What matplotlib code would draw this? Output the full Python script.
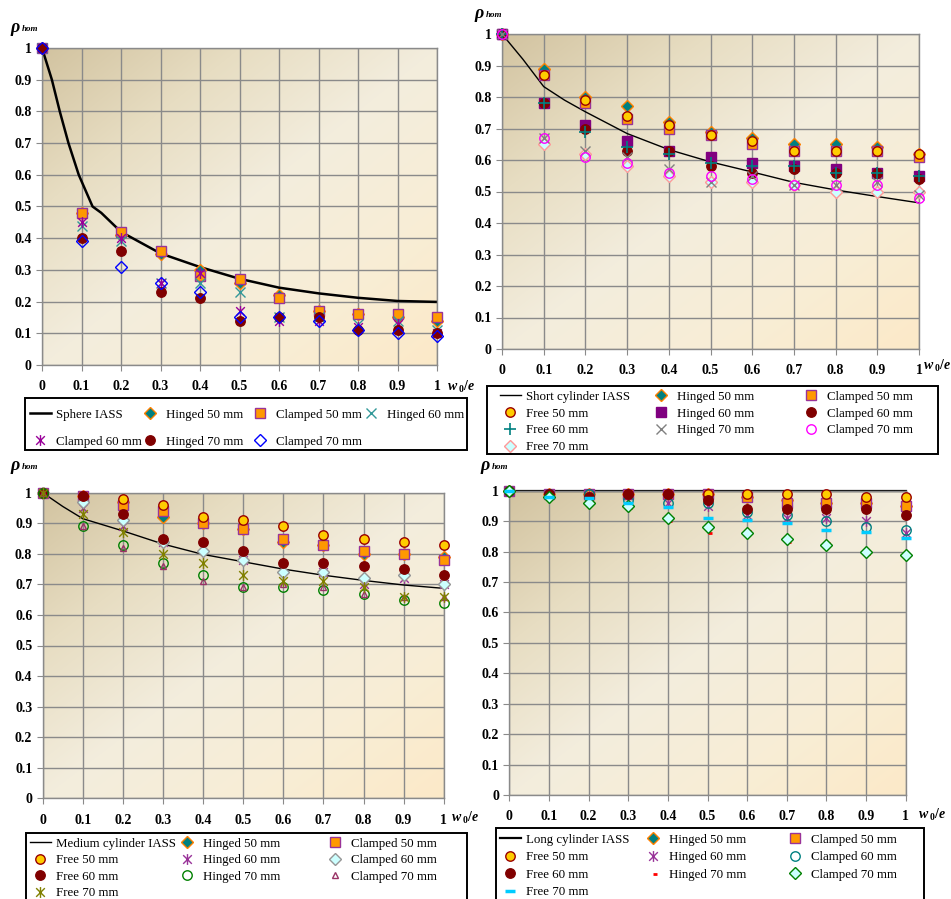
import numpy as np
import matplotlib
matplotlib.use("Agg")
import matplotlib.pyplot as plt
from matplotlib.path import Path
from matplotlib.patches import Rectangle

plt.rcParams['font.family'] = ['Liberation Serif', 'DejaVu Serif']
plt.rcParams['mathtext.fontset'] = 'custom'
plt.rcParams['mathtext.rm'] = 'Liberation Serif:bold'
plt.rcParams['mathtext.it'] = 'Liberation Serif:italic:bold'
plt.rcParams['mathtext.bf'] = 'Liberation Serif:bold'

# ---------------- data ----------------
x_vals = [0.0, 0.1, 0.2, 0.3, 0.4, 0.5, 0.6, 0.7, 0.8, 0.9, 1.0]
tick_labels = ['0', '0.1', '0.2', '0.3', '0.4', '0.5', '0.6', '0.7', '0.8', '0.9', '1']

# Sphere
sph_iass_x = [0, 0.025, 0.045, 0.067, 0.093, 0.128, 0.15, 0.2, 0.3, 0.4, 0.5, 0.6, 0.7, 0.8, 0.9, 1.0]
sph_iass_y = [1.0, 0.9, 0.8, 0.7, 0.6, 0.5, 0.48, 0.42, 0.352, 0.309, 0.272, 0.244, 0.226, 0.212, 0.202, 0.199]
sph_h50 = [1.0, 0.48, 0.41, 0.35, 0.30, 0.26, 0.22, 0.17, 0.16, 0.15, 0.14]
sph_c50 = [1.0, 0.48, 0.42, 0.36, 0.28, 0.27, 0.21, 0.17, 0.16, 0.16, 0.15]
sph_h60 = [1.0, 0.44, 0.39, 0.26, 0.26, 0.23, 0.15, 0.15, 0.13, 0.14, 0.11]
sph_c60 = [1.0, 0.45, 0.40, 0.26, 0.29, 0.17, 0.14, 0.14, 0.12, 0.13, 0.10]
sph_h70 = [1.0, 0.40, 0.36, 0.23, 0.21, 0.14, 0.15, 0.15, 0.11, 0.11, 0.10]
sph_c70 = [1.0, 0.39, 0.31, 0.26, 0.23, 0.15, 0.15, 0.14, 0.11, 0.10, 0.09]

# Short cylinder
sc_iass_x = [0, 0.05, 0.1, 0.15, 0.2, 0.3, 0.4, 0.5, 0.6, 0.7, 0.8, 0.9, 1.0]
sc_iass_y = [1.0, 0.92, 0.833, 0.79, 0.753, 0.684, 0.633, 0.594, 0.562, 0.529, 0.505, 0.484, 0.464]
sc_h50 = [1.0, 0.89, 0.80, 0.77, 0.72, 0.69, 0.67, 0.65, 0.65, 0.64, 0.62]
sc_c50 = [1.0, 0.87, 0.78, 0.73, 0.70, 0.68, 0.65, 0.63, 0.63, 0.63, 0.61]
sc_f50 = [1.0, 0.87, 0.79, 0.74, 0.71, 0.68, 0.66, 0.63, 0.63, 0.63, 0.62]
sc_h60 = [1.0, 0.78, 0.71, 0.66, 0.63, 0.61, 0.59, 0.58, 0.57, 0.56, 0.55]
sc_c60 = [1.0, 0.78, 0.70, 0.63, 0.63, 0.58, 0.56, 0.57, 0.56, 0.56, 0.54]
sc_f60 = [1.0, 0.78, 0.69, 0.64, 0.62, 0.59, 0.58, 0.58, 0.56, 0.56, 0.55]
sc_h70 = [1.0, 0.67, 0.63, 0.61, 0.57, 0.53, 0.55, 0.52, 0.52, 0.53, 0.49]
sc_c70 = [1.0, 0.67, 0.61, 0.59, 0.56, 0.55, 0.54, 0.52, 0.52, 0.52, 0.48]
sc_f70 = [1.0, 0.65, 0.62, 0.58, 0.55, 0.53, 0.53, 0.52, 0.50, 0.50, 0.50]

# Medium cylinder
mc_iass_x = [0, 0.05, 0.1, 0.15, 0.2, 0.3, 0.4, 0.5, 0.6, 0.7, 0.8, 0.9, 1.0]
mc_iass_y = [1.0, 0.955, 0.915, 0.895, 0.875, 0.832, 0.798, 0.774, 0.75, 0.73, 0.713, 0.698, 0.687]
mc_h50 = [1.0, 0.99, 0.97, 0.92, 0.90, 0.88, 0.84, 0.83, 0.80, 0.80, 0.79]
mc_c50 = [1.0, 0.99, 0.96, 0.94, 0.90, 0.88, 0.85, 0.83, 0.81, 0.80, 0.78]
mc_f50 = [1.0, 0.99, 0.98, 0.96, 0.92, 0.91, 0.89, 0.86, 0.85, 0.84, 0.83]
mc_h60 = [1.0, 0.95, 0.89, 0.84, 0.82, 0.78, 0.75, 0.74, 0.70, 0.72, 0.70]
mc_c60 = [1.0, 0.97, 0.91, 0.84, 0.81, 0.78, 0.74, 0.74, 0.72, 0.73, 0.70]
mc_f60 = [1.0, 0.99, 0.93, 0.85, 0.84, 0.81, 0.77, 0.77, 0.76, 0.75, 0.73]
mc_h70 = [1.0, 0.89, 0.83, 0.77, 0.73, 0.69, 0.69, 0.68, 0.67, 0.65, 0.64]
mc_c70 = [1.0, 0.89, 0.82, 0.76, 0.71, 0.69, 0.70, 0.69, 0.67, 0.66, 0.66]
mc_f70 = [1.0, 0.93, 0.87, 0.80, 0.77, 0.73, 0.71, 0.71, 0.69, 0.66, 0.66]

# Long cylinder
lc_iass_x = [0.0, 1.0]
lc_iass_y = [1.0, 1.0]
lc_h50 = [1.0, 0.99, 0.99, 0.99, 0.99, 0.99, 0.98, 0.97, 0.96, 0.96, 0.95]
lc_c50 = [1.0, 0.99, 0.99, 0.99, 0.99, 0.99, 0.98, 0.96, 0.96, 0.96, 0.95]
lc_f50 = [1.0, 0.99, 0.99, 0.99, 0.99, 0.99, 0.99, 0.99, 0.99, 0.98, 0.98]
lc_h60 = [1.0, 0.99, 0.99, 0.97, 0.96, 0.95, 0.92, 0.91, 0.91, 0.90, 0.86]
lc_c60 = [1.0, 0.99, 0.99, 0.97, 0.96, 0.96, 0.93, 0.92, 0.90, 0.88, 0.87]
lc_f60 = [1.0, 0.99, 0.98, 0.99, 0.99, 0.97, 0.94, 0.94, 0.94, 0.94, 0.92]
lc_h70 = [1.0, 0.98, 0.97, 0.945, 0.905, 0.865, 0.87, 0.835, 0.83, 0.795, 0.79]
lc_c70 = [1.0, 0.98, 0.96, 0.95, 0.91, 0.88, 0.86, 0.84, 0.82, 0.80, 0.79]
lc_f70 = [1.0, 0.98, 0.975, 0.96, 0.945, 0.91, 0.905, 0.895, 0.87, 0.865, 0.845]

# ---------------- styles ----------------
ASTER = Path([(-1, -1), (1, 1), (-1, 1), (1, -1), (0, -1.25), (0, 1.25)],
             [Path.MOVETO, Path.LINETO] * 3)
RDASH = Path([(0.0, -0.35), (1.0, -0.35)], [Path.MOVETO, Path.LINETO])

def st(marker, ms, mfc, mec, mew=1.0):
    return dict(marker=marker, ms=ms, mfc=mfc, mec=mec, mew=mew)

S_H50 = st('D', 5.8, '#008080', '#FF8000')
S_C50 = st('s', 6.8, '#FF9900', '#993399')
S_F50 = st('o', 6.8, '#FFCC00', '#990000')

W, H = 951, 899
fig = plt.figure(figsize=(W / 100, H / 100), dpi=100)

def fx(p): return p / W
def fy(p): return 1 - p / H

# gradient background
n = 256
u = np.linspace(0, 1, n)
U, V = np.meshgrid(u, u)
T = (U + V) / 2
stops = [0.0, 0.25, 0.5, 0.75, 1.0]
cols = np.array([[210, 195, 160], [231, 221, 194], [243, 237, 221], [248, 238, 214], [252, 233, 200]]) / 255
grad = np.zeros((n, n, 3))
for c in range(3):
    grad[..., c] = np.interp(T, stops, cols[:, c])

def make_ax(x0, x1, ytop, ybot):
    ax = fig.add_axes([fx(x0), fy(ybot), fx(x1) - fx(x0), (ybot - ytop) / H])
    ax.imshow(grad, extent=[0, 1, 0, 1], aspect='auto', zorder=0, interpolation='bilinear')
    ax.set_xlim(0, 1)
    ax.set_ylim(0, 1)
    ax.set_xticks(x_vals)
    ax.set_xticklabels(tick_labels, fontweight='bold', fontsize=10)
    ax.set_yticks(x_vals)
    ax.set_yticklabels(tick_labels, fontweight='bold', fontsize=10)
    ax.set_axisbelow(True)
    ax.grid(True, color='#8a8a8a', lw=1.0, zorder=0.5)
    for s in ax.spines.values():
        s.set_color('#8a8a8a')
        s.set_linewidth(1.0)
    ax.tick_params(axis='x', direction='out', length=4, color='#8a8a8a', pad=7)
    ax.tick_params(axis='y', direction='out', length=4, color='#8a8a8a', pad=3.5)
    return ax

def pts(ax, y, label, s, z=3):
    h, = ax.plot(x_vals, y, linestyle='none', marker=s['marker'], ms=s['ms'],
                 mfc=s['mfc'], mec=s['mec'], mew=s['mew'], clip_on=False, zorder=z, label=label)
    return h

def add_legend(box, columns, col_x, row1, spacing, fs=9.3):
    x0, y0, x1, y1 = box
    fig.add_artist(Rectangle((fx(x0), fy(y1)), (x1 - x0) / W, (y1 - y0) / H,
                             transform=fig.transFigure, facecolor='white',
                             edgecolor='black', lw=1.4, zorder=4))
    fs_px = fs * 100 / 72
    ls = max((spacing - 0.93 * fs_px) / fs_px, 0.0)
    for hs, cx in zip(columns, col_x):
        lg = fig.legend(hs, [h.get_label() for h in hs], loc='upper left',
                        bbox_to_anchor=(fx(cx), fy(row1 - 0.32 * fs_px)),
                        bbox_transform=fig.transFigure, frameon=False, borderpad=0,
                        borderaxespad=0, handlelength=1.6, handletextpad=0.45,
                        labelspacing=ls, fontsize=fs)
        lg.set_zorder(5)

def rho(x, y):
    fig.text(fx(x), fy(y), 'ρ', fontsize=13, fontweight='bold', fontstyle='italic', va='baseline')
    fig.text(fx(x + 12), fy(y - 1), 'hom', fontsize=6.5, fontweight='bold', fontstyle='italic', va='baseline')

def wlab(x, y):
    fig.text(fx(x), fy(y), r'$w_{\ 0}/e$', fontsize=10, va='center')

# ---------- Panel 1: sphere ----------
ax1 = make_ax(42, 437, 48, 365)
l1, = ax1.plot(sph_iass_x, sph_iass_y, color='black', lw=1.8, zorder=2, label='Sphere IASS')
a = pts(ax1, sph_h50, 'Hinged 50 mm', S_H50)
b = pts(ax1, sph_c50, 'Clamped 50 mm', S_C50)
c = pts(ax1, sph_h60, 'Hinged 60 mm', st('x', 6.8, 'none', '#339999', 1.0))
d = pts(ax1, sph_c60, 'Clamped 60 mm', st(ASTER, 7.8, 'none', '#990099', 1.0))
e = pts(ax1, sph_h70, 'Hinged 70 mm', st('o', 6.8, '#800000', '#800000'))
f = pts(ax1, sph_c70, 'Clamped 70 mm', st('D', 5.8, 'none', '#0000FF', 1.0))
rho(10, 32)
wlab(447, 387)
add_legend((25, 398, 467, 450), [[l1, d], [a, e], [b, f], [c]],
           [30, 140, 250, 361], 413, 27)

# ---------- Panel 2: short cylinder ----------
ax2 = make_ax(502, 919, 34, 349)
l2, = ax2.plot(sc_iass_x, sc_iass_y, color='black', lw=1.0, zorder=2, label='Short cylinder IASS')
a = pts(ax2, sc_h50, 'Hinged 50 mm', S_H50)
b = pts(ax2, sc_c50, 'Clamped 50 mm', S_C50)
g = pts(ax2, sc_f50, 'Free 50 mm', S_F50)
c = pts(ax2, sc_h60, 'Hinged 60 mm', st('s', 6.8, '#800080', '#800080'))
d = pts(ax2, sc_c60, 'Clamped 60 mm', st('o', 6.8, '#800000', '#800000'))
h = pts(ax2, sc_f60, 'Free 60 mm', st('+', 8, 'none', '#008080', 1.2))
e = pts(ax2, sc_h70, 'Hinged 70 mm', st('x', 6.8, 'none', '#808080', 1.0))
f = pts(ax2, sc_c70, 'Clamped 70 mm', st('o', 6.8, 'none', '#FF00FF', 1.0))
i = pts(ax2, sc_f70, 'Free 70 mm', st('D', 5.8, '#CCFFFF', '#FF9999', 1.0), z=2.9)
rho(474, 18)
wlab(923, 366)
add_legend((487, 386, 938, 454), [[l2, g, h, i], [a, c, e], [b, d, f]],
           [500, 651, 801], 395, 16.7)

# ---------- Panel 3: medium cylinder ----------
ax3 = make_ax(42.7, 443.7, 492.7, 798.3)
l3, = ax3.plot(mc_iass_x, mc_iass_y, color='black', lw=1.0, zorder=2, label='Medium cylinder IASS')
a = pts(ax3, mc_h50, 'Hinged 50 mm', S_H50)
b = pts(ax3, mc_c50, 'Clamped 50 mm', S_C50)
g = pts(ax3, mc_f50, 'Free 50 mm', S_F50)
c = pts(ax3, mc_h60, 'Hinged 60 mm', st(ASTER, 7.8, 'none', '#993399', 1.0))
d = pts(ax3, mc_c60, 'Clamped 60 mm', st('D', 5.8, '#CCFFFF', '#969696', 1.0))
h = pts(ax3, mc_f60, 'Free 60 mm', st('o', 6.8, '#800000', '#800000'))
e = pts(ax3, mc_h70, 'Hinged 70 mm', st('o', 6.8, 'none', '#008000', 1.0))
f = pts(ax3, mc_c70, 'Clamped 70 mm', st('^', 4.0, 'none', '#993366', 1.0))
i = pts(ax3, mc_f70, 'Free 70 mm', st(ASTER, 7.8, 'none', '#808000', 1.0))
rho(10, 470)
wlab(451, 818)
add_legend((26, 833, 467, 915), [[l3, g, h, i], [a, c, e], [b, d, f]],
           [30, 177, 325], 842, 16.5)

# ---------- Panel 4: long cylinder ----------
ax4 = make_ax(509.3, 905.7, 490.7, 795)
l4, = ax4.plot(lc_iass_x, lc_iass_y, color='black', lw=1.6, zorder=2, clip_on=False,
               label='Long cylinder IASS')
a = pts(ax4, lc_h50, 'Hinged 50 mm', S_H50)
b = pts(ax4, lc_c50, 'Clamped 50 mm', S_C50)
g = pts(ax4, lc_f50, 'Free 50 mm', S_F50)
c = pts(ax4, lc_h60, 'Hinged 60 mm', st(ASTER, 7.8, 'none', '#993399', 1.0))
d = pts(ax4, lc_c60, 'Clamped 60 mm', st('o', 6.8, 'none', '#008080', 1.0))
h = pts(ax4, lc_f60, 'Free 60 mm', st('o', 6.8, '#800000', '#800000'))
e = pts(ax4, lc_h70, 'Hinged 70 mm', st(RDASH, 6.0, 'none', '#FF0000', 2.0))
f = pts(ax4, lc_c70, 'Clamped 70 mm', st('D', 5.8, '#CCFFFF', '#008000', 1.0))
i = pts(ax4, lc_f70, 'Free 70 mm', st('_', 7.0, 'none', '#00CCFF', 2.5))
rho(480, 470)
wlab(918, 815)
add_legend((496, 828, 924, 915), [[l4, g, h, i], [a, c, e], [b, d, f]],
           [500, 643, 785], 838, 17.5)

fig.savefig('out.png', dpi=100)
